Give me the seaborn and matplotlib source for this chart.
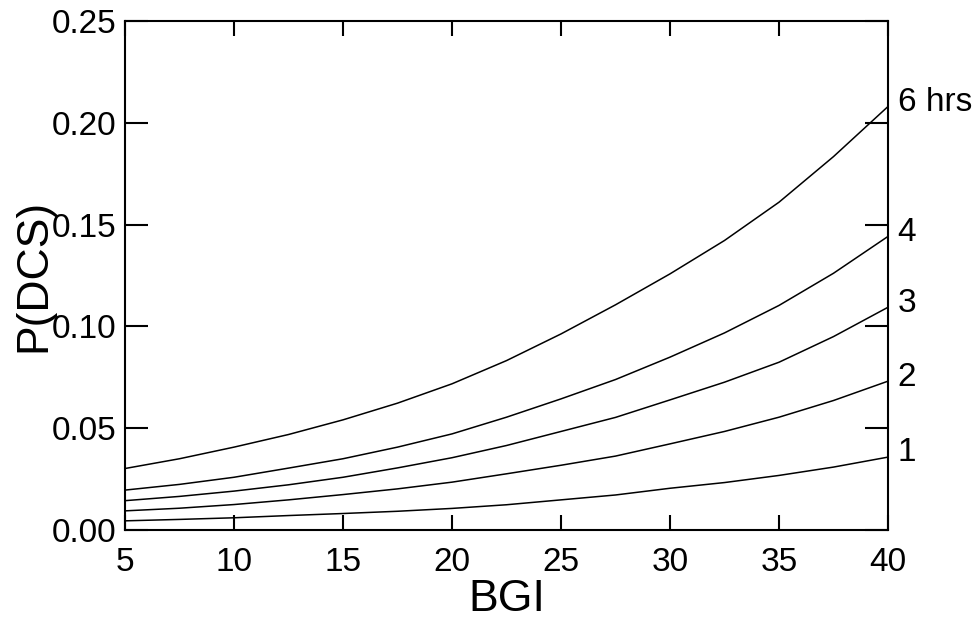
import matplotlib
matplotlib.use("Agg")
import matplotlib.pyplot as plt
import seaborn as sns
import pandas as pd

# ---- data ----
bgi = [5, 7.5, 10, 12.5, 15, 17.5, 20, 22.5, 25, 27.5, 30, 32.5, 35, 37.5, 40]
p_6hrs = [0.0302, 0.0350, 0.0407, 0.0469, 0.0541, 0.0623, 0.0718, 0.0832,
          0.0963, 0.1106, 0.1258, 0.1422, 0.1610, 0.1834, 0.2080]
p_4hrs = [0.0196, 0.0224, 0.0259, 0.0304, 0.0350, 0.0407, 0.0472, 0.0554,
          0.0644, 0.0739, 0.0849, 0.0968, 0.1103, 0.1261, 0.1442]
p_3hrs = [0.0144, 0.0165, 0.0191, 0.0222, 0.0259, 0.0305, 0.0355, 0.0415,
          0.0484, 0.0553, 0.0639, 0.0726, 0.0824, 0.0950, 0.1094]
p_2hrs = [0.0094, 0.0107, 0.0125, 0.0148, 0.0174, 0.0202, 0.0235, 0.0276,
          0.0318, 0.0363, 0.0423, 0.0484, 0.0554, 0.0636, 0.0731]
p_1hrs = [0.0045, 0.0052, 0.0060, 0.0071, 0.0081, 0.0092, 0.0106, 0.0124,
          0.0148, 0.0172, 0.0205, 0.0233, 0.0268, 0.0309, 0.0358]
series_labels = ["6 hrs", "4", "3", "2", "1"]
x_ticks = [5, 10, 15, 20, 25, 30, 35, 40]
y_ticks = [0.00, 0.05, 0.10, 0.15, 0.20, 0.25]
y_tick_labels = ["0.00", "0.05", "0.10", "0.15", "0.20", "0.25"]

series = [p_6hrs, p_4hrs, p_3hrs, p_2hrs, p_1hrs]
df = pd.concat(
    [pd.DataFrame({"BGI": bgi, "P": vals, "series": lab})
     for vals, lab in zip(series, series_labels)],
    ignore_index=True,
)

sns.set_theme(style="ticks")
plt.rcParams["font.family"] = ["Liberation Sans", "DejaVu Sans"]

fig = plt.figure(figsize=(9.79, 6.23), dpi=100)
ax = fig.add_axes([125 / 979, 1 - 530 / 623, (888 - 125) / 979, (530 - 21) / 623])

sns.lineplot(data=df, x="BGI", y="P", hue="series", hue_order=series_labels,
             palette=["black"] * len(series_labels), linewidth=1.1,
             legend=False, ax=ax, sort=True)

ax.set_xlim(5, 40)
ax.set_ylim(0, 0.25)
ax.set_xticks(x_ticks)
ax.set_xticklabels([str(t) for t in x_ticks])
ax.set_yticks(y_ticks)
ax.set_yticklabels(y_tick_labels)

for sp in ax.spines.values():
    sp.set_visible(True)
    sp.set_linewidth(1.5)
    sp.set_color("black")

ax.tick_params(axis="x", which="both", direction="in", length=11, width=1.5,
               top=True, bottom=True, labelsize=24, pad=12, colors="black")
ax.tick_params(axis="y", which="both", direction="in", length=16.5, width=1.5,
               left=True, right=True, labelsize=24, pad=6, colors="black")

ax.set_xlabel("BGI", fontsize=32, color="black")
ax.set_ylabel("P(DCS)", fontsize=32, color="black")
ax.xaxis.set_label_coords(0.5, -0.1375)
ax.xaxis.label.set_va("center")
ax.yaxis.set_label_coords(-0.119, 0.5)
ax.yaxis.label.set_va("center")

# end-of-curve labels
for vals, lab in zip(series, series_labels):
    ax.annotate(lab, xy=(bgi[-1], vals[-1]), xytext=(7, 3),
                textcoords="offset points", fontsize=24, va="center",
                ha="left", annotation_clip=False, color="black")

ax.set_facecolor("white")
fig.patch.set_facecolor("white")
fig.savefig("out.png", dpi=100)
